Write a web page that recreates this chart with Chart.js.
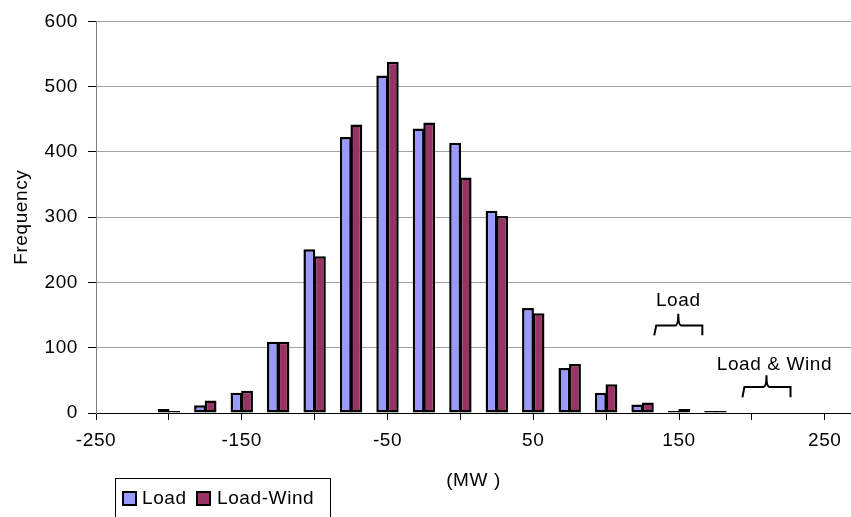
<!DOCTYPE html>
<html><head><meta charset="utf-8">
<script src="https://cdn.jsdelivr.net/npm/chart.js@4.4.1/dist/chart.umd.min.js"></script>
<style>html,body{margin:0;padding:0;background:#fff}#wrap{width:851px;height:517px;position:relative}</style>
</head><body><div id="wrap"><canvas id="c" width="851" height="517"></canvas></div>
<script>
// ---- data ----
const binCenters   = [-200,-175,-150,-125,-100,-75,-50,-25,0,25,50,75,100,125,150,175];
const loadFreq     = [6,12,31,109,251,423,517,436,414,310,161,69,31,13,3,3];
const loadWindFreq = [3,19,34,109,240,442,538,445,361,302,153,75,44,16,6,3];
const xTickLabels  = [-250,-150,-50,50,150,250];
const xTickMarks   = [-250,-200,-150,-100,-50,0,50,100,150,200,250];
const yTicks       = [0,100,200,300,400,500,600];
const seriesNames  = ['Load','Load-Wind'];
const braceLabels  = ['Load','Load & Wind'];
// brace spans in data units: [xStart, xEnd, yLegBottom, yBar, yTip, yText]
const braceLoad    = [133,166,119,134,152,172];
const braceLoadWnd = [193.5,226.5,24,40,58,74];

const FONT = "'Liberation Sans', Arial, sans-serif";
const FS = 19;
const LS = '0.6px';
const colors = ['#9999FF','#993366'];

const spacing = {
  id:'spacing',
  beforeDraw(chart){ chart.ctx.letterSpacing = LS; }
};

const extras = {
  id:'extras',
  afterDraw(chart){
    const {ctx, scales:{x,y}} = chart;
    ctx.save();
    ctx.letterSpacing = LS;
    const drawBrace = (b, label, textDx) => {
      const x0=x.getPixelForValue(b[0]), x1=x.getPixelForValue(b[1]);
      const xc=(x0+x1)/2;
      const yl=y.getPixelForValue(b[2]), yb=y.getPixelForValue(b[3]), yt=y.getPixelForValue(b[4]);
      ctx.strokeStyle='#000'; ctx.lineWidth=2; ctx.lineJoin='miter';
      ctx.beginPath();
      ctx.moveTo(x0, yl); ctx.lineTo(x0+2, yb); ctx.lineTo(xc-3, yb);
      ctx.quadraticCurveTo(xc, yb, xc, yt);
      ctx.moveTo(xc, yt); ctx.quadraticCurveTo(xc, yb, xc+3, yb);
      ctx.lineTo(x1, yb); ctx.lineTo(x1, yl);
      ctx.stroke();
      ctx.fillStyle='#000'; ctx.font = FS+'px '+FONT;
      ctx.textAlign='center'; ctx.textBaseline='middle';
      ctx.fillText(label, xc+textDx, y.getPixelForValue(b[5]));
    };
    drawBrace(braceLoad, braceLabels[0], 0);
    drawBrace(braceLoadWnd, braceLabels[1], 8);
    // legend
    ctx.strokeStyle='#000'; ctx.lineWidth=1;
    ctx.strokeRect(115.5, 478.5, 215, 45);
    ctx.font = FS+'px '+FONT; ctx.textAlign='left'; ctx.textBaseline='middle';
    const items=[[123,142],[197,217]];
    items.forEach((it,i)=>{
      ctx.fillStyle=colors[i]; ctx.fillRect(it[0],492,13,13);
      ctx.strokeStyle='#000'; ctx.lineWidth=2; ctx.strokeRect(it[0],492,13,13);
      ctx.fillStyle='#000'; ctx.fillText(seriesNames[i], it[1], 499);
    });
    ctx.restore();
  }
};

new Chart(document.getElementById('c'), {
  type:'bar',
  data:{
    datasets:[
      {label:seriesNames[0], data: binCenters.map((v,i)=>({x:v,y:loadFreq[i]})), backgroundColor:colors[0], borderColor:'#000', borderWidth:2.5, borderSkipped:false},
      {label:seriesNames[1], data: binCenters.map((v,i)=>({x:v,y:loadWindFreq[i]})), backgroundColor:colors[1], borderColor:'#000', borderWidth:2.5, borderSkipped:false}
    ]
  },
  options:{
    responsive:false, animation:false, devicePixelRatio:1,
    layout:{padding:{top:18,right:0,bottom:0,left:0}},
    categoryPercentage:0.58, barPercentage:1.12,
    plugins:{legend:{display:false}, tooltip:{enabled:false}},
    scales:{
      x:{
        type:'linear', min:-250, max:268, offset:false,
        afterFit(s){ s.height = 104; },
        afterBuildTicks(s){ s.ticks = xTickMarks.map(v=>({value:v})); },
        ticks:{ color:'#000', font:{family:FONT,size:FS}, padding:9, maxRotation:0, autoSkip:false,
          callback:(v)=> xTickLabels.includes(v) ? String(v) : '' },
        grid:{ offset:false, drawOnChartArea:false, drawTicks:true, tickLength:7, color:'#000', lineWidth:1 },
        border:{ color:'#000', width:1 },
        title:{ display:true, text:'(MW )', color:'#000', font:{family:FONT,size:FS}, padding:{top:0,bottom:25} }
      },
      y:{
        min:0, max:600,
        afterFit(s){ s.width = 96; },
        afterBuildTicks(s){ s.ticks = yTicks.map(v=>({value:v})); },
        ticks:{ color:'#000', font:{family:FONT,size:FS}, padding:10 },
        grid:{ color:(c)=> c.tick && c.tick.value===0 ? 'rgba(0,0,0,0)' : '#a0a0a0', tickColor:'#000', tickLength:8, lineWidth:1 },
        border:{ color:'#808080', width:1 },
        title:{ display:true, text:'Frequency', color:'#000', font:{family:FONT,size:FS}, padding:{top:10,bottom:0} }
      }
    }
  },
  plugins:[spacing, extras]
});
</script></body></html>
